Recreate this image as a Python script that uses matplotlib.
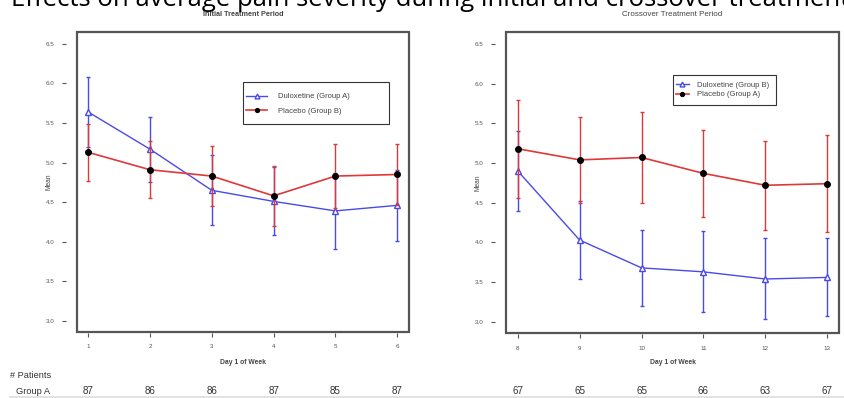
import numpy as np
import matplotlib
matplotlib.use("Agg")
import matplotlib.pyplot as plt
import matplotlib.transforms as mtransforms
from matplotlib.patches import Rectangle

# initial treatment period (weeks 1-6)
weeks_init = [1, 2, 3, 4, 5, 6]
dulox_a = [5.64, 5.17, 4.65, 4.51, 4.39, 4.46]
dulox_a_err = [0.44, 0.41, 0.44, 0.43, 0.48, 0.45]
placebo_b = [5.13, 4.91, 4.83, 4.58, 4.83, 4.85]
placebo_b_err = [0.36, 0.36, 0.38, 0.38, 0.40, 0.38]
n_init = [87, 86, 86, 87, 85, 87]

# crossover treatment period (weeks 8-13)
weeks_cross = [8, 9, 10, 11, 12, 13]
dulox_b = [4.90, 4.03, 3.68, 3.63, 3.54, 3.56]
dulox_b_err = [0.50, 0.49, 0.48, 0.51, 0.51, 0.49]
placebo_a = [5.18, 5.04, 5.07, 4.87, 4.72, 4.74]
placebo_a_err = [0.62, 0.54, 0.57, 0.55, 0.56, 0.61]
n_cross = [67, 65, 65, 66, 63, 67]

yticks = [3.0, 3.5, 4.0, 4.5, 5.0, 5.5, 6.0, 6.5]

blue = "#4a4ae8"
red = "#e03838"
small = ["Liberation Sans", "DejaVu Sans"]

fig = plt.figure(figsize=(8.44, 3.98), dpi=100)
W, H = 844, 398


def box(x0, y0, x1, y1):
    return [x0 / W, 1 - y1 / H, (x1 - x0) / W, (y1 - y0) / H]


def panel(rect, x, d, d_err, p, p_err, d_lab, p_lab, title, title_w, counts,
          xlim, legbox, legopts):
    ax = fig.add_axes(rect)
    eb_d = ax.errorbar(x, d, yerr=d_err, color=blue, lw=1, marker="^", ms=5,
                       mfc="white", mec=blue, mew=1, capsize=1.5,
                       elinewidth=1, zorder=3)
    eb_p = ax.errorbar(x, p, yerr=p_err, color=red, lw=1.2, marker="o", ms=4,
                       mfc="black", mec="black", capsize=1.5, elinewidth=1,
                       zorder=4)
    ax.set_xlim(*xlim)
    ax.set_ylim(2.86, 6.65)
    ax.set_xticks(x)
    ax.set_yticks(yticks)
    ax.set_yticklabels([f"{v:.1f}" for v in yticks])
    for s in ax.spines.values():
        s.set_visible(False)
    ax.spines["left"].set_position(("outward", 8))
    ax.spines["bottom"].set_position(("outward", 1))
    ax.add_patch(Rectangle((0, 0), 1, 1, transform=ax.transAxes, fill=False,
                           ec="#555555", lw=1.6, clip_on=False, zorder=5))
    ax.tick_params(axis="both", length=3, width=0.8, color="#555555",
                   labelsize=4.5, labelcolor="#555555", pad=5)
    for t in ax.get_xticklabels() + ax.get_yticklabels():
        t.set_family(small)

    # legend: entries via ax.legend, frame drawn to the reference size
    x0, y0, x1, y1 = legbox
    fig.add_artist(Rectangle((x0 / W, 1 - y1 / H), (x1 - x0) / W, (y1 - y0) / H,
                             fill=False, ec="#333333", lw=0.8,
                             transform=fig.transFigure, zorder=6))
    ax.legend([eb_d.lines[0], eb_p.lines[0]], [d_lab, p_lab], loc="upper left",
              bbox_to_anchor=legopts[0], bbox_transform=fig.transFigure,
              frameon=False, prop={"family": small, "size": 5.5},
              handlelength=legopts[1], labelspacing=legopts[2], borderpad=0,
              borderaxespad=0, handletextpad=legopts[3], labelcolor="#444444",
              markerscale=0.7)

    cx = rect[0] + rect[2] / 2
    fig.text(cx, 1 - 15 / H, title, ha="center", va="center", fontsize=title_w[0],
             fontweight=title_w[1], color="#444444", family=small)
    fig.text(cx, 1 - 362 / H, "Day 1 of Week", ha="center", va="center",
             fontsize=4.9, fontweight="bold", color="#444444", family=small)
    fig.text(rect[0] - 28 / W, rect[1] + rect[3] / 2, "Mean", rotation=90,
             ha="center", va="center", fontsize=4.8, color="#444444",
             family=small)
    trans = mtransforms.blended_transform_factory(ax.transData, fig.transFigure)
    for xi, n in zip(x, counts):
        ax.text(xi, 1 - 391 / H, str(n), transform=trans, ha="center",
                va="center", fontsize=7.1, color="#333333", clip_on=False,
                family=small)
    return ax


panel(box(77, 32, 409, 332), weeks_init, dulox_a, dulox_a_err, placebo_b,
      placebo_b_err, "Duloxetine (Group A)", "Placebo (Group B)",
      "Initial Treatment Period", (5.2, "bold"), n_init, (0.82, 6.19),
      (243, 82, 389, 124), ((246 / W, 1 - 93 / H), 2.75, 0.92, 1.4))
panel(box(506, 32, 839, 333), weeks_cross, dulox_b, dulox_b_err, placebo_a,
      placebo_a_err, "Duloxetine (Group B)", "Placebo (Group A)",
      "Crossover Treatment Period", (5.8, "normal"), n_cross, (7.81, 13.19),
      (673, 75, 776, 105), ((676 / W, 1 - 81.5 / H), 1.7, 0.26, 1.05))

fig.text(10 / W, 1 - 375 / H, "# Patients", ha="left", va="center",
         fontsize=6.6, color="#333333", family=small)
fig.text(16 / W, 1 - 391 / H, "Group A", ha="left", va="center",
         fontsize=6.7, color="#333333", family=small)
fig.add_artist(plt.Line2D([10 / W, 1], [1 - 396.5 / H] * 2,
                          color="#dddddd", lw=1.2))

# page heading, partly cut off at the top as in the source slide
fig.text(11 / W, 1 - 5.5 / H,
         "Effects on average pain severity during initial and crossover treatment",
         ha="left", va="baseline", fontsize=18.5, color="black",
         family=["Open Sans", "DejaVu Sans"])

fig.savefig("out.png", dpi=100, facecolor="white")
